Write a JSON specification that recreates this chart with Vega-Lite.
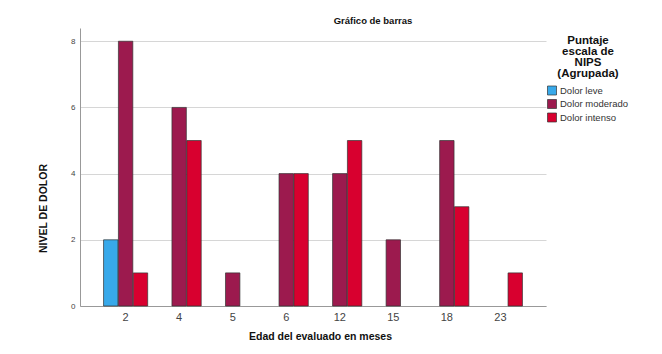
{
  "$schema": "https://vega.github.io/schema/vega-lite/v6.json",
  "width": 466,
  "height": 278,
  "autosize": {"type": "none"},
  "padding": {"left": 80, "top": 28, "right": 116, "bottom": 48},
  "background": "white",
  "title": {
    "text": "Gráfico de barras",
    "font": "Liberation Sans",
    "fontSize": 9.5,
    "fontWeight": "bold",
    "color": "#111",
    "anchor": "middle",
    "dx": 60,
    "offset": 3
  },
  "data": {
    "values": [
      {"edad": "2", "grupo": "Dolor leve", "n": 2},
      {"edad": "2", "grupo": "Dolor moderado", "n": 8},
      {"edad": "2", "grupo": "Dolor intenso", "n": 1},
      {"edad": "4", "grupo": "Dolor moderado", "n": 6},
      {"edad": "4", "grupo": "Dolor intenso", "n": 5},
      {"edad": "5", "grupo": "Dolor moderado", "n": 1},
      {"edad": "6", "grupo": "Dolor moderado", "n": 4},
      {"edad": "6", "grupo": "Dolor intenso", "n": 4},
      {"edad": "12", "grupo": "Dolor moderado", "n": 4},
      {"edad": "12", "grupo": "Dolor intenso", "n": 5},
      {"edad": "15", "grupo": "Dolor moderado", "n": 2},
      {"edad": "18", "grupo": "Dolor moderado", "n": 5},
      {"edad": "18", "grupo": "Dolor intenso", "n": 3},
      {"edad": "23", "grupo": "Dolor intenso", "n": 1}
    ]
  },
  "mark": {"type": "bar", "stroke": "#333333", "strokeWidth": 0.7},
  "encoding": {
    "x": {
      "field": "edad",
      "type": "ordinal",
      "scale": {"domain": ["2", "4", "5", "6", "12", "15", "18", "23"], "paddingInner": 0.176, "paddingOuter": 0.44},
      "axis": {
        "title": "Edad del evaluado en meses",
        "titleFont": "Liberation Sans",
        "titleFontSize": 10.5,
        "titleFontWeight": "bold",
        "titleColor": "#111",
        "titleX": 240,
        "titlePadding": 9,
        "labelAngle": 0,
        "labelFont": "Liberation Sans",
        "labelFontSize": 11,
        "labelColor": "#444",
        "labelPadding": 5,
        "ticks": false,
        "domainColor": "#999999",
        "grid": false
      }
    },
    "xOffset": {
      "field": "grupo",
      "type": "nominal",
      "scale": {"domain": ["Dolor leve", "Dolor moderado", "Dolor intenso"], "paddingInner": 0.03}
    },
    "y": {
      "field": "n",
      "type": "quantitative",
      "scale": {"domain": [0, 8.4], "nice": false},
      "axis": {
        "title": "NIVEL DE DOLOR",
        "titleFont": "Liberation Sans",
        "titleFontSize": 10.5,
        "titleFontWeight": "bold",
        "titleColor": "#111",
        "titleX": -37,
        "titleY": 180,
        "titleBaseline": "middle",
        "values": [0, 2, 4, 6, 8],
        "labelFont": "Liberation Sans",
        "labelFontSize": 8,
        "labelColor": "#444",
        "labelPadding": 5,
        "ticks": false,
        "domainColor": "#999999",
        "grid": true,
        "gridColor": "#d6d6d6",
        "gridWidth": 1
      }
    },
    "color": {
      "field": "grupo",
      "type": "nominal",
      "scale": {
        "domain": ["Dolor leve", "Dolor moderado", "Dolor intenso"],
        "range": ["#38a9ea", "#9c1a4e", "#d8002f"]
      },
      "legend": {
        "title": ["Puntaje", "escala de", "NIPS", "(Agrupada)"],
        "orient": "none",
        "legendX": 467,
        "legendY": 7,
        "titleFont": "Liberation Sans",
        "titleFontSize": 11.5,
        "titleFontWeight": "bold",
        "titleColor": "#111",
        "titleAlign": "center",
        "titleAnchor": "middle",
        "titleLineHeight": 11,
        "titlePadding": 6,
        "symbolType": "square",
        "symbolSize": 81,
        "symbolStrokeColor": "#333333",
        "symbolStrokeWidth": 0.7,
        "labelFont": "Liberation Sans",
        "labelFontSize": 9.5,
        "labelColor": "#333",
        "labelOffset": 3,
        "rowPadding": 1.5
      }
    }
  },
  "config": {
    "view": {"stroke": null}
  }
}
